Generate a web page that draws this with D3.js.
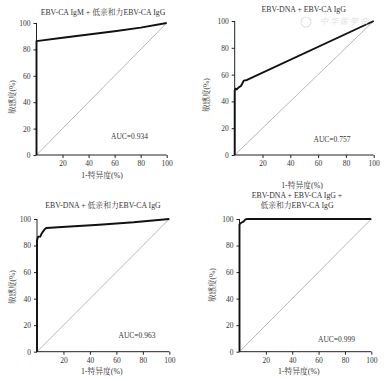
<!DOCTYPE html>
<html><head><meta charset="utf-8">
<script src="https://cdn.jsdelivr.net/npm/d3@7"></script>
<style>body{margin:0;background:#fff;}svg{display:block;}</style>
</head><body>
<svg id="c" width="385" height="381"></svg>
<script>
// ---- data ----
const xTicks = [20, 40, 60, 80, 100];
const yTicks = [0, 20, 40, 60, 80, 100];
const xLabel = "1-特异度(%)";
const yLabel = "敏感度(%)";

const titles1 = ["EBV-CA IgM + 低亲和力EBV-CA IgG"];
const fpr1 = [0, 0, 20, 40, 60, 80, 100];
const tpr1 = [0, 86.3, 88.8, 91.3, 93.8, 96.5, 100];
const auc1 = "AUC=0.934";

const titles2 = ["EBV-DNA + EBV-CA IgG"];
const fpr2 = [0, 0, 0.6, 1.5, 2.9, 4.5, 5.3, 6.5, 8.9, 100];
const tpr2 = [0, 48, 49.5, 49, 50.5, 51.5, 53, 55.5, 56, 100];
const auc2 = "AUC=0.757";

const titles3 = ["EBV-DNA + 低亲和力EBV-CA IgG"];
const fpr3 = [0, 0, 0.8, 2.5, 3.3, 4.5, 5.8, 7, 22, 47, 73, 100];
const tpr3 = [0, 84, 86.7, 86.7, 88.7, 90.5, 92.2, 93.2, 94.2, 95.7, 97.5, 100];
const auc3 = "AUC=0.963";

const titles4 = ["EBV-DNA + EBV-CA IgG +", "低亲和力EBV-CA IgG"];
const fpr4 = [0, 0, 1, 3, 4.5, 6, 100];
const tpr4 = [0, 96, 97, 98, 99.7, 100, 100];
const auc4 = "AUC=0.999";

const FONT = "'Liberation Serif','Times New Roman','Noto Serif CJK SC','Noto Sans CJK SC',serif";

const panels = [
  {titles: titles1, fpr: fpr1, tpr: tpr1, auc: auc1,
   xr: [36.5, 166.7], yr: [155, 23], titleY: [13], titleX: 103,
   xlabY: 176, xlabX: 102, ylabX: 13, ylabY: 97, aucX: 129.5, aucY: 137.5},
  {titles: titles2, fpr: fpr2, tpr: tpr2, auc: auc2,
   xr: [234.7, 373.7], yr: [155, 21], titleY: [10], titleX: 303.7,
   xlabY: 186, xlabX: 302, ylabX: 207, ylabY: 95, aucX: 332, aucY: 140},
  {titles: titles3, fpr: fpr3, tpr: tpr3, auc: auc3,
   xr: [37, 169.3], yr: [351.7, 219], titleY: [206], titleX: 103,
   xlabY: 372.7, xlabX: 101.7, ylabX: 13, ylabY: 287, aucX: 137, aucY: 336.7},
  {titles: titles4, fpr: fpr4, tpr: tpr4, auc: auc4,
   xr: [239.5, 371.3], yr: [351.7, 219], titleY: [196.5, 206.5], titleX: 297,
   xlabY: 372.7, xlabX: 298.7, ylabX: 213.7, ylabY: 285, aucX: 336.5, aucY: 340}
];

const svg = d3.select("#c");

panels.forEach(p => {
  const g = svg.append("g");
  const x = d3.scaleLinear().domain([0, 100]).range(p.xr);
  const y = d3.scaleLinear().domain([0, 100]).range(p.yr);

  // diagonal
  g.append("path")
    .attr("d", d3.line()([[x(0), y(0)], [x(100), y(100)]]))
    .attr("stroke", "#9a9a9a").attr("stroke-width", 0.7).attr("fill", "none");

  // axes
  const xa = g.append("g").attr("transform", `translate(0,${y(0)})`)
    .call(d3.axisBottom(x).tickValues(xTicks).tickSize(3).tickPadding(3));
  const ya = g.append("g").attr("transform", `translate(${x(0)},0)`)
    .call(d3.axisLeft(y).tickValues(yTicks).tickSize(3).tickPadding(3));
  [xa, ya].forEach(a => {
    a.select(".domain").attr("stroke", "#222").attr("stroke-width", 1);
    a.selectAll(".tick line").attr("stroke", "#222").attr("stroke-width", 1);
    a.selectAll("text").attr("font-family", FONT).attr("font-size", 7.5).attr("fill", "#333");
  });
  xa.select(".domain").attr("d", `M${x(0)},0H${x(100)}`);
  ya.select(".domain").attr("d", `M0,${y(0)}V${y(100)}`);

  // curve
  const pts = p.fpr.map((f, i) => [x(f), y(p.tpr[i])]);
  g.append("path").attr("d", d3.line()(pts))
    .attr("stroke", "#111").attr("stroke-width", 1.9).attr("fill", "none")
    .attr("stroke-linejoin", "round");

  // titles
  p.titles.forEach((t, i) => {
    g.append("text").attr("x", p.titleX).attr("y", p.titleY[i])
      .attr("text-anchor", "middle").attr("dominant-baseline", "middle")
      .attr("font-family", FONT).attr("font-size", 7.8).attr("fill", "#333").text(t);
  });
  g.append("text").attr("x", p.xlabX).attr("y", p.xlabY)
    .attr("text-anchor", "middle").attr("dominant-baseline", "middle")
    .attr("font-family", FONT).attr("font-size", 7.8).attr("fill", "#333").text(xLabel);
  g.append("text").attr("transform", `translate(${p.ylabX},${p.ylabY}) rotate(-90)`)
    .attr("text-anchor", "middle").attr("dominant-baseline", "middle")
    .attr("font-family", FONT).attr("font-size", 7.5).attr("fill", "#444").text(yLabel);
  g.append("text").attr("x", p.aucX).attr("y", p.aucY)
    .attr("text-anchor", "middle").attr("dominant-baseline", "middle")
    .attr("font-family", FONT).attr("font-size", 7.5).attr("fill", "#333").text(p.auc);
});

// watermark
svg.append("circle").attr("cx", 306).attr("cy", 22).attr("r", 5)
  .attr("fill", "none").attr("stroke", "#e2e2e2").attr("stroke-width", 1.2);
svg.append("text").attr("x", 345).attr("y", 22).attr("text-anchor", "middle")
  .attr("dominant-baseline", "middle").attr("font-family", "'Noto Sans CJK SC'")
  .attr("font-size", 8).attr("font-style", "italic").attr("fill", "#e2e2e2")
  .attr("letter-spacing", 2).text("中华医学会");
</script>
</body></html>
